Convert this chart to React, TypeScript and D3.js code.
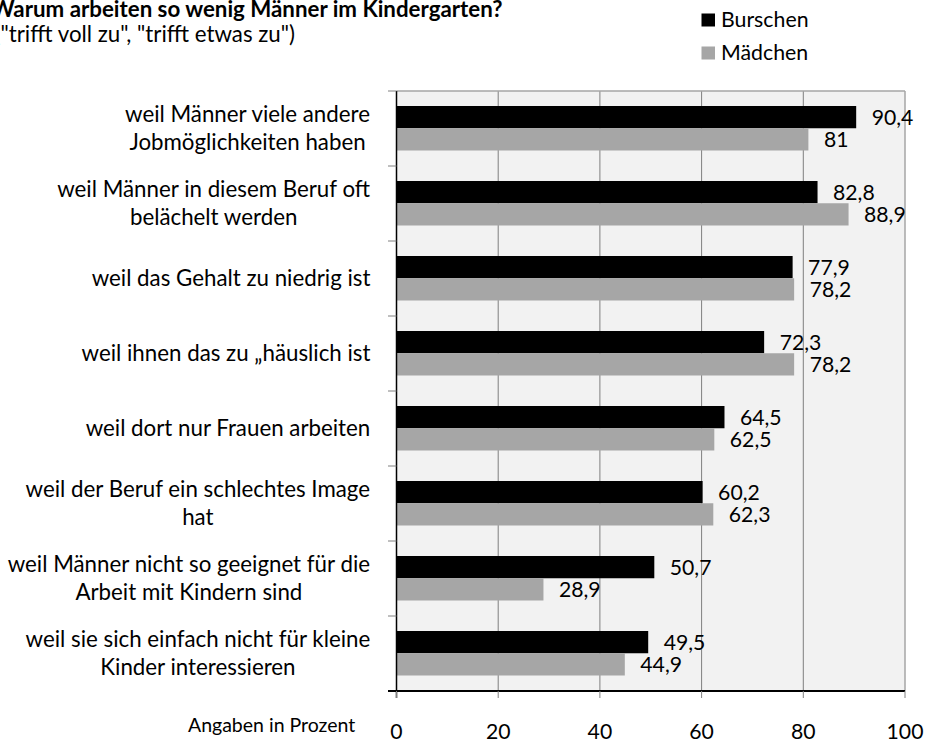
import React from "react";
import * as d3 from "d3";

const W = 929;
const H = 740;
const FONT = "Lato, 'Open Sans', sans-serif";

const titleText = "Warum arbeiten so wenig Männer im Kindergarten?";
const subtitleText = '("trifft voll zu", "trifft etwas zu")';
const axisNote = "Angaben in Prozent";

const categoryLines: string[][] = [
  ["weil Männer viele andere", "Jobmöglichkeiten haben"],
  ["weil Männer in diesem Beruf oft", "belächelt werden"],
  ["weil das Gehalt zu niedrig ist"],
  ["weil ihnen das zu „häuslich ist"],
  ["weil dort nur Frauen arbeiten"],
  ["weil der Beruf ein schlechtes Image", "hat"],
  ["weil Männer nicht so geeignet für die", "Arbeit mit Kindern sind"],
  ["weil sie sich einfach nicht für kleine", "Kinder interessieren"],
];

const seriesNames = ["Burschen", "Mädchen"];
const burschen = [90.4, 82.8, 77.9, 72.3, 64.5, 60.2, 50.7, 49.5];
const maedchen = [81, 88.9, 78.2, 78.2, 62.5, 62.3, 28.9, 44.9];
const seriesColors = ["#000000", "#a6a6a6"];
const xTicks = [0, 20, 40, 60, 80, 100];

const CAT_SIZE = 22.3;
const VAL_SIZE = 21.2;

let _ctx: CanvasRenderingContext2D | null = null;
function measure(text: string, font: string): number {
  if (!_ctx) {
    const c = document.createElement("canvas");
    _ctx = c.getContext("2d");
  }
  if (!_ctx) return text.length * 10;
  _ctx.font = font;
  return _ctx.measureText(text).width;
}

const fmt = (v: number) => String(v).replace(".", ",");

export default function App() {
  const x = d3.scaleLinear().domain([0, 100]).range([396.5, 905]);
  const y = d3
    .scaleBand<number>()
    .domain(d3.range(categoryLines.length))
    .range([91, 691])
    .padding(0);
  const sub = d3.scaleBand<string>().domain(seriesNames).range([15, 59.5]);
  const series = [burschen, maedchen];
  const plotTop = y.range()[0];
  const plotBottom = y.range()[1];
  const x0 = x(0);
  const x1 = x(100);
  const labelRight = 370.5;
  const lineH = 27.5;
  const catFont = `${CAT_SIZE}px ${FONT}`;

  return (
    <svg
      width={W}
      height={H}
      style={{ position: "absolute", left: 0, top: 0, background: "#ffffff" }}
      fontFamily={FONT}
    >
      {/* title */}
      <text x={502.5} y={17} textAnchor="end" fontSize={22.3} fontWeight="bold" fill="#000">
        {titleText}
      </text>
      <text x={295} y={41.5} textAnchor="end" fontSize={22.3} fill="#000">
        {subtitleText}
      </text>

      {/* legend */}
      {seriesNames.map((s, i) => (
        <g key={s}>
          <rect x={701.5} y={13.5 + i * 33} width={13.5} height={13} fill={seriesColors[i]} />
          <text x={721} y={27 + i * 32.5} fontSize={21.3} fill="#000">
            {s}
          </text>
        </g>
      ))}

      {/* plot background */}
      <rect x={x0} y={plotTop} width={x1 - x0} height={plotBottom - plotTop} fill="#f2f2f2" />

      {/* gridlines */}
      {xTicks
        .filter((t) => t > 0 && t < 100)
        .map((t) => (
          <line key={t} x1={x(t)} x2={x(t)} y1={plotTop} y2={plotBottom} stroke="#7f7f7f" strokeWidth={1} />
        ))}

      {/* top/right border */}
      <line x1={x0} x2={x1} y1={plotTop} y2={plotTop} stroke="#a6a6a6" strokeWidth={1.5} />
      <line x1={x1} x2={x1} y1={plotTop} y2={plotBottom} stroke="#a6a6a6" strokeWidth={1.5} />

      {/* bars */}
      {series.map((vals, si) =>
        vals.map((v, ci) => (
          <rect
            key={`${si}-${ci}`}
            x={x0}
            y={(y(ci) as number) + (sub(seriesNames[si]) as number)}
            width={x(v) - x0}
            height={sub.bandwidth()}
            fill={seriesColors[si]}
          />
        ))
      )}

      {/* value labels */}
      {series.map((vals, si) =>
        vals.map((v, ci) => (
          <text
            key={`l${si}-${ci}`}
            x={x(v) + 15.5}
            y={(y(ci) as number) + (sub(seriesNames[si]) as number) + sub.bandwidth() / 2 + 8}
            fontSize={VAL_SIZE}
            fill="#000"
          >
            {fmt(v)}
          </text>
        ))
      )}

      {/* left axis */}
      <line x1={x0} x2={x0} y1={plotTop} y2={plotBottom + 7} stroke="#000" strokeWidth={1.5} />
      {d3.range(categoryLines.length + 1).map((i) => {
        const yy = plotTop + i * y.step();
        return <line key={`yt${i}`} x1={x0 - 8.5} x2={x0} y1={yy} y2={yy} stroke="#808080" strokeWidth={1} />;
      })}

      {/* bottom axis */}
      <line x1={x0 - 8.5} x2={x1} y1={plotBottom} y2={plotBottom} stroke="#000" strokeWidth={2} />
      {xTicks.map((t) => (
        <g key={`xt${t}`}>
          <line x1={x(t)} x2={x(t)} y1={plotBottom} y2={plotBottom + 7} stroke="#808080" strokeWidth={1} />
          <text x={x(t)} y={738.5} textAnchor="middle" fontSize={VAL_SIZE} fill="#000">
            {t}
          </text>
        </g>
      ))}
      <text x={188} y={731.5} fontSize={19.5} fill="#000">
        {axisNote}
      </text>

      {/* category labels */}
      {categoryLines.map((lines, ci) => {
        const maxW = Math.max(...lines.map((l) => measure(l, catFont)));
        const cx = labelRight - maxW / 2;
        const cy = (y(ci) as number) + y.bandwidth() / 2;
        return (
          <g key={`c${ci}`}>
            {lines.map((l, li) => (
              <text
                key={li}
                x={cx}
                y={cy + (li - (lines.length - 1) / 2) * lineH + 7.5}
                textAnchor="middle"
                fontSize={CAT_SIZE}
                fill="#000"
              >
                {l}
              </text>
            ))}
          </g>
        );
      })}
    </svg>
  );
}
